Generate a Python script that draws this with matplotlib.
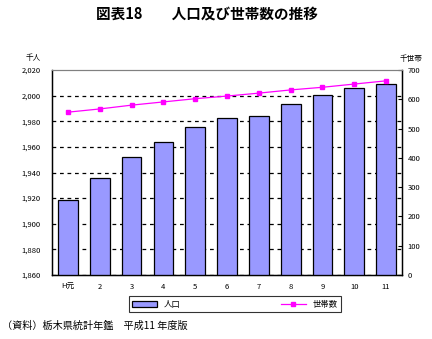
import numpy as np
import matplotlib.pyplot as plt

plt.rcParams['font.family'] = ['Noto Sans CJK JP', 'DejaVu Sans']

years = ['H元', '2', '3', '4', '5', '6', '7', '8', '9', '10', '11']
population = [1918.6, 1936.0, 1952.0, 1964.0, 1975.5, 1982.5, 1984.0, 1993.5, 2000.6, 2006.0, 2009.0]
households = [556, 567, 580, 591, 602, 611, 621, 632, 641, 652, 663]

fig = plt.figure(figsize=(4.32, 3.39), dpi=100)
ax = fig.add_axes([52 / 432, 1 - 275 / 339, 350 / 432, 205 / 339])
x = np.arange(len(years))

bars = ax.bar(x, [p - 1860 for p in population], bottom=1860, width=0.62,
              color='#9999ff', edgecolor='black', linewidth=0.9, label='人口', zorder=3)
ax.set_ylim(1860, 2020)
ax.set_xlim(-0.5, len(years) - 0.5)
ax.set_yticks(range(1860, 2021, 20))
ax.set_yticklabels([f'{v:,}' for v in range(1860, 2021, 20)])
ax.yaxis.grid(True, linestyle=(0, (3, 3)), color='black', linewidth=0.9)
# no dashed line over the gray top border
ax.get_ygridlines()[-1].set_visible(False)
ax.set_xticks(x)
ax.set_xticklabels(years)
ax.tick_params(axis='x', length=0, pad=6)
ax.tick_params(axis='y', length=0, pad=8)
ax.tick_params(labelsize=5.5)
ax.spines['top'].set_color('gray')
for s in ['left', 'right', 'bottom']:
    ax.spines[s].set_linewidth(1.0)

ax2 = ax.twinx()
line, = ax2.plot(x, households, color='#ff00ff', marker='s', markersize=2.5,
                 linewidth=0.9, label='世帯数', zorder=4)
ax2.set_ylim(0, 700)
ax2.set_yticks(range(0, 701, 100))
ax2.tick_params(axis='y', direction='in', length=3, labelsize=5.5, pad=4)
ax2.spines['top'].set_color('gray')

fig.text(33 / 432, 1 - 58 / 339, '千人', fontsize=5.5, ha='center', va='center')
fig.text(411 / 432, 1 - 59 / 339, '千世帯', fontsize=5.5, ha='center', va='center')

fig.text(207 / 432, 1 - 14 / 339, '図表18　　人口及び世帯数の推移', fontsize=10.5,
         fontweight='bold', ha='center', va='center')

leg = fig.legend([bars, line], ['人口', '世帯数'], loc='center',
                 bbox_to_anchor=(235 / 432, 1 - 304 / 339), ncol=2, fontsize=6,
                 frameon=True, fancybox=False, edgecolor='black', columnspacing=12,
                 handlelength=3, handleheight=0.7, borderpad=0.4)
leg.get_frame().set_linewidth(0.8)

fig.text(2 / 432, 1 - 326 / 339, '（資料）栃木県統計年鑑　平成11 年度版', fontsize=7.3,
         ha='left', va='center')

fig.savefig('out.png', dpi=100)
